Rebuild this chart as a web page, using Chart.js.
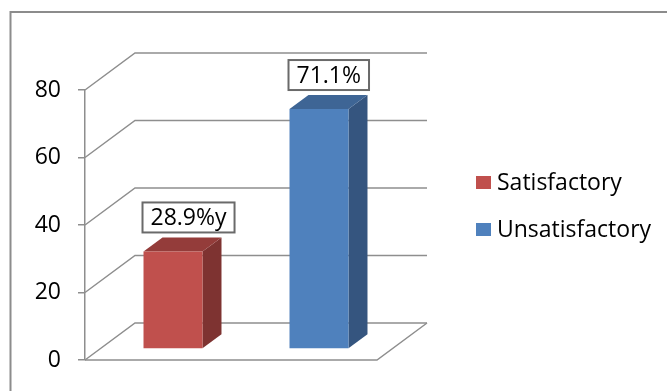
<!DOCTYPE html>
<html>
<head>
<meta charset="utf-8">
<script src="https://cdn.jsdelivr.net/npm/chart.js@4"></script>
<style>
  html, body { margin: 0; padding: 0; background: #fff; }
  #wrap { width: 667px; height: 391px; }
</style>
</head>
<body>
<div id="wrap"><canvas id="barChart" width="667" height="391"></canvas></div>
<script>
let categories = ["Satisfactory", "Unsatisfactory"];
let percents = [28.9, 71.1];
let pointLabels = ["28.9%y", "71.1%"];
let yTicks = [0, 20, 40, 60, 80];

let frontColors = ["#C0504D", "#4F81BD"];
let sideColors = ["#7E3331", "#35557F"];
let topColors = ["#943C3A", "#3E6595"];
let gridColor = "#8e8e8e";
let fontName = "'Open Sans', sans-serif";

// 3d offsets: bar front plane, bar depth, back wall
let barShift = { x: 15, y: -11 };
let barDepth = { x: 19, y: -14 };
let wallDepth = { x: 50, y: -37 };

const threeD = {
    id: "threeD",
    beforeDraw(chart) {
        const ctx = chart.ctx;
        ctx.save();
        ctx.strokeStyle = "#8c8c8c";
        ctx.lineWidth = 2;
        ctx.beginPath();
        ctx.moveTo(10.5, 391);
        ctx.lineTo(10.5, 12);
        ctx.lineTo(667, 12);
        ctx.stroke();
        ctx.restore();
    },
    beforeDatasetsDraw(chart) {
        const ctx = chart.ctx;
        const area = chart.chartArea;
        const y = chart.scales.y;
        ctx.save();
        ctx.strokeStyle = gridColor;
        ctx.lineWidth = 1.5;
        // walls
        yTicks.forEach(v => {
            const py = y.getPixelForValue(v);
            ctx.beginPath();
            ctx.moveTo(area.left, py);
            ctx.lineTo(area.left + wallDepth.x, py + wallDepth.y);
            ctx.lineTo(area.right + wallDepth.x, py + wallDepth.y);
            ctx.stroke();
        });
        // floor front and right edge
        const base = y.getPixelForValue(0);
        ctx.beginPath();
        ctx.moveTo(area.left, base);
        ctx.lineTo(area.right, base);
        ctx.lineTo(area.right + wallDepth.x, base + wallDepth.y);
        ctx.stroke();

        // side and top faces of the bars
        const meta = chart.getDatasetMeta(0);
        meta.data.forEach((bar, i) => {
            const l = bar.x - bar.width / 2 + barShift.x;
            const r = bar.x + bar.width / 2 + barShift.x;
            const t = bar.y + barShift.y;
            const b = bar.base + barShift.y;
            ctx.fillStyle = sideColors[i];
            ctx.beginPath();
            ctx.moveTo(r, t);
            ctx.lineTo(r + barDepth.x, t + barDepth.y);
            ctx.lineTo(r + barDepth.x, b + barDepth.y);
            ctx.lineTo(r, b);
            ctx.closePath();
            ctx.fill();
            ctx.fillStyle = topColors[i];
            ctx.beginPath();
            ctx.moveTo(l, t);
            ctx.lineTo(l + barDepth.x, t + barDepth.y);
            ctx.lineTo(r + barDepth.x, t + barDepth.y);
            ctx.lineTo(r, t);
            ctx.closePath();
            ctx.fill();
        });
        ctx.restore();
        ctx.save();
        ctx.translate(barShift.x, barShift.y);
    },
    afterDatasetsDraw(chart) {
        const ctx = chart.ctx;
        ctx.restore();
        const meta = chart.getDatasetMeta(0);
        ctx.save();
        ctx.font = "23px " + fontName;
        ctx.textBaseline = "middle";
        ctx.textAlign = "center";
        meta.data.forEach((bar, i) => {
            const l = bar.x - bar.width / 2 + barShift.x;
            const t = bar.y + barShift.y;
            const w = ctx.measureText(pointLabels[i]).width + 16;
            const h = 30;
            const bx = l - 1;
            const by = t - 19 - h;
            ctx.fillStyle = "#ffffff";
            ctx.fillRect(bx, by, w, h);
            ctx.strokeStyle = "#6a6a6a";
            ctx.lineWidth = 2;
            ctx.strokeRect(bx, by, w, h);
            ctx.fillStyle = "#000000";
            ctx.fillText(pointLabels[i], bx + w / 2, by + h / 2 + 1);
        });
        // legend
        ctx.textAlign = "left";
        ctx.font = "23px " + fontName;
        categories.forEach((c, i) => {
            const cy = 182 + i * 47;
            ctx.fillStyle = frontColors[i];
            ctx.fillRect(476, cy - 6, 15, 13);
            ctx.fillStyle = "#000000";
            ctx.fillText(c, 497, cy + 1);
        });
        ctx.restore();
    }
};

new Chart("barChart", {
    type: "bar",
    data: {
        labels: categories,
        datasets: [{
            data: percents,
            backgroundColor: frontColors,
            categoryPercentage: 1,
            barPercentage: 0.404
        }]
    },
    options: {
        responsive: false,
        animation: false,
        layout: { padding: { left: 10, top: 90, right: 290, bottom: 31 } },
        plugins: {
            legend: { display: false },
            tooltip: { enabled: false }
        },
        scales: {
            x: { display: false },
            y: {
                min: 0,
                max: 80,
                afterFit: (s) => { s.width = 75; },
                afterBuildTicks: (s) => { s.ticks = yTicks.map(v => ({ value: v })); },
                border: { display: true, color: gridColor, width: 1.5 },
                grid: { drawOnChartArea: false, tickLength: 7, color: gridColor, lineWidth: 1.5 },
                ticks: {
                    padding: 17,
                    color: "#000000",
                    font: { family: fontName, size: 23 }
                }
            }
        }
    },
    plugins: [threeD]
});
</script>
</body>
</html>
